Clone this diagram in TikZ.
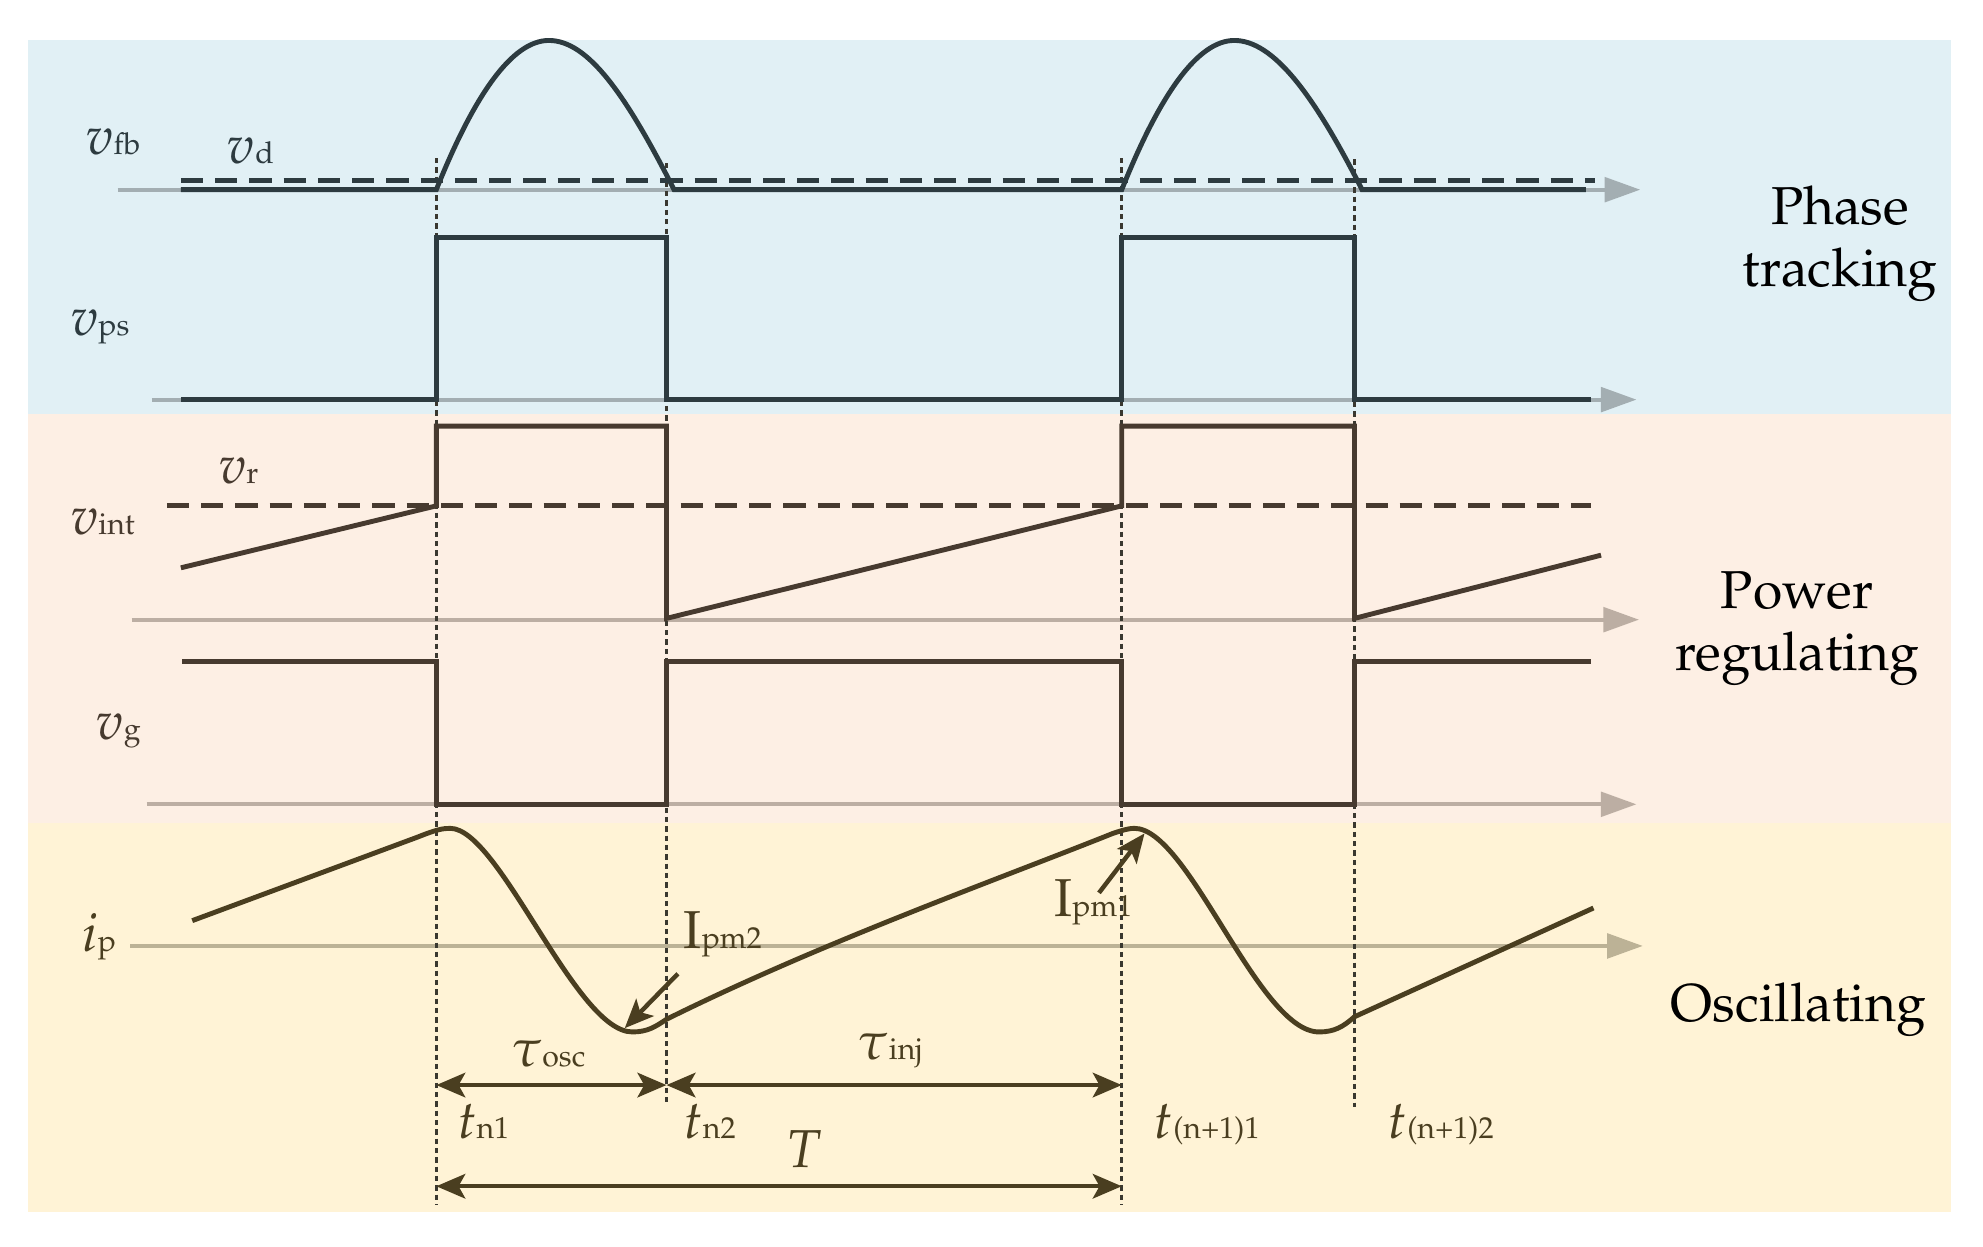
\documentclass[tikz,border=0pt]{standalone}
\usepackage[T1]{fontenc}
\usepackage{mathpazo}
\usetikzlibrary{arrows.meta}
\definecolor{bandblue}{RGB}{225,240,245}
\definecolor{bandpink}{RGB}{253,239,228}
\definecolor{bandyellow}{RGB}{255,243,214}
\definecolor{trA}{RGB}{45,59,64}
\definecolor{trB}{RGB}{71,58,47}
\definecolor{trC}{RGB}{74,62,32}
\definecolor{axA}{RGB}{163,174,178}
\definecolor{axB}{RGB}{188,174,163}
\definecolor{axC}{RGB}{188,178,150}
\definecolor{tcol}{RGB}{58,56,48}
\newcommand\sbs[1]{{\fontsize{6.8}{8}\selectfont\rmfamily\upshape #1}}
\begin{document}
\begin{tikzpicture}[x=0.01cm,y=-0.01cm,
  trace/.style={line width=1.1pt,line join=miter},
  axisline/.style={line width=0.9pt,-{Triangle[length=8pt,width=5.5pt]}},
  dashline/.style={line width=1.1pt,dash pattern=on 5pt off 2.7pt},
  tline/.style={line width=0.7pt,dash pattern=on 1.2pt off 0.9pt,tcol},
  dimarrow/.style={line width=1pt,trC,{Stealth[length=6.5pt,width=5.5pt,inset=1.5pt]}-{Stealth[length=6.5pt,width=5.5pt,inset=1.5pt]}},
  ptr/.style={line width=1pt,trC,-{Stealth[length=6.5pt,width=5.5pt,inset=1.5pt]}},
  lbl/.style={font=\fontsize{12}{14.4}\selectfont,inner sep=0pt,anchor=base west},
  sect/.style={font=\fontsize{12}{14}\selectfont,align=center,inner sep=0pt}]
\useasboundingbox (0,0) rectangle (1568,986);
% bands
\fill[bandblue] (22,32) rectangle (1543,327);
\fill[bandpink] (22,327) rectangle (1543,651);
\fill[bandyellow] (22,651) rectangle (1543,958);
% axes
\draw[axisline,axA] (93,150) -- (1297,150);
\draw[axisline,axA] (120,316) -- (1294,316);
\draw[axisline,axB] (104,490) -- (1296,490);
\draw[axisline,axB] (116,636) -- (1294,636);
\draw[axisline,axC] (103,748) -- (1299,748);
% time markers
\coordinate (t1a) at (345,125); \coordinate (t1b) at (345,953);
\coordinate (t2a) at (527,129); \coordinate (t2b) at (527,872);
\coordinate (t3a) at (887,125); \coordinate (t3b) at (887,953);
\coordinate (t4a) at (1071,126); \coordinate (t4b) at (1071,875);
\draw[tline] (t1a) -- (t1b);
\draw[tline] (t2a) -- (t2b);
\draw[tline] (t3a) -- (t3b);
\draw[tline] (t4a) -- (t4b);
% v_d and v_r
\draw[dashline,trA] (143,143) -- (1261,143);
\draw[dashline,trB] (132,400) -- (1258,400);
% v_fb
\draw[trace,trA] (143,150) -- (345,150)
  .. controls (375,75) and (405,32) .. (434,32)
  .. controls (465,32) and (495,75) .. (533,150) -- (887,150)
  .. controls (917,75) and (947,32) .. (976,32)
  .. controls (1007,32) and (1039,75) .. (1077,150) -- (1254,150);
% v_ps
\draw[trace,trA] (143,316) -- (345,316) -- (345,188) -- (527,188) -- (527,316)
  -- (887,316) -- (887,188) -- (1071,188) -- (1071,316) -- (1258,316);
% v_int
\draw[trace,trB] (143,449) -- (345,400) -- (345,337) -- (527,337) -- (527,489)
  -- (887,400) -- (887,337) -- (1071,337) -- (1071,489) -- (1266,439);
% v_g
\draw[trace,trB] (144,523) -- (345,523) -- (345,636) -- (527,636) -- (527,523)
  -- (887,523) -- (887,636) -- (1071,636) -- (1071,523) -- (1258,523);
% i_p
\draw[trace,trC,line join=round] (152,728) -- (330,662)
  .. controls (345,656) and (350,655) .. (356,655)
  .. controls (395,655) and (455,816) .. (500,816)
  .. controls (512,816) and (518,812) .. (527,806)
  .. controls (650,745) and (790,695) .. (880,659)
  .. controls (889,656) and (893,655) .. (897,655)
  .. controls (940,655) and (995,816) .. (1043,816)
  .. controls (1055,816) and (1062,812) .. (1071,804) -- (1260,718);
% dimension arrows
\coordinate (A1) at (345,858); \coordinate (A2) at (527,858); \coordinate (A3) at (887,858);
\draw[dimarrow] (A1) -- (A2);
\draw[dimarrow] (A2) -- (A3);
\coordinate (B1) at (345,938); \coordinate (B3) at (887,938);
\draw[dimarrow] (B1) -- (B3);
% pointer arrows
\coordinate (p2s) at (536,770); \coordinate (p2e) at (494,813);
\draw[ptr] (p2s) -- (p2e);
\coordinate (p1s) at (869,706); \coordinate (p1e) at (905,659);
\draw[ptr] (p1s) -- (p1e);
% labels
\node[lbl,trA] (lfb) at (67,122) {$v$\sbs{fb}};
\node[lbl,trA] (ld) at (179,129) {$v$\sbs{d}};
\node[lbl,trA] (lps) at (55,265) {$v$\sbs{ps}};
\node[lbl,trB] (lr) at (172,382) {$v$\sbs{r}};
\node[lbl,trB] (lint) at (55,423) {$v$\sbs{int}};
\node[lbl,trB] (lg) at (75,585) {$v$\sbs{g}};
\node[lbl,trC] (lip) at (64,752) {$i$\sbs{p}};
\node[lbl,trC] (lpm2) at (540,750) {I\sbs{pm2}};
\node[lbl,trC] (lpm1) at (833,725) {I\sbs{pm1}};
\node[lbl,trC] (losc) at (404,843) {$\tau$\sbs{osc}};
\node[lbl,trC] (linj) at (678,838) {$\tau$\sbs{inj}};
\node[lbl,trC] (ltn1) at (361,900) {$t$\sbs{n1}};
\node[lbl,trC] (ltn2) at (540,900) {$t$\sbs{n2}};
\node[lbl,trC] (lT) at (621,923) {$T$};
\node[lbl,trC] (lt31) at (912,900) {$t$\sbs{(n+1)1}};
\node[lbl,trC] (lt32) at (1097,900) {$t$\sbs{(n+1)2}};
% section titles
\node[sect] (sPT) at (1455,193) {Phase\\tracking};
\node[sect] (sPR) at (1421,497) {Power\\regulating};
\node[sect,anchor=base] (sOS) at (1422,808) {Oscillating};
\end{tikzpicture}
\end{document}
